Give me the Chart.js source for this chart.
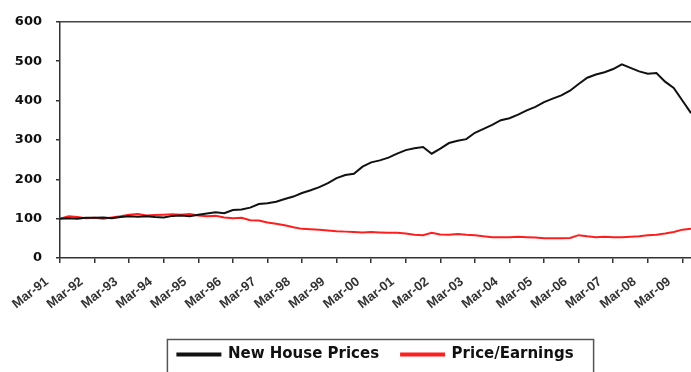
<!DOCTYPE html>
<html>
<head>
<meta charset="utf-8">
<script src="https://cdn.jsdelivr.net/npm/chart.js@4.4.1/dist/chart.umd.min.js"></script>
<style>
  html, body { margin: 0; padding: 0; background: #fff; }
  #wrap { width: 691px; height: 372px; }
</style>
</head>
<body>
<div id="wrap"><canvas id="house-chart" width="691" height="372"></canvas></div>
<script>
// quarterly, Mar-91 .. Jun-09
var years = ['91','92','93','94','95','96','97','98','99','00','01','02','03','04','05','06','07','08','09'];
var months = ['Mar', 'Jun', 'Sep', 'Dec'];
var quarters = [];
years.forEach(function (y, i) {
    months.forEach(function (m, j) {
        if (i == years.length - 1 && j > 1) return;
        quarters.push(m + '-' + y);
    });
});

var newHousePrices = [
    100, 101, 100, 102, 102, 103, 101, 104, 106, 105, 106, 104,
    103, 107, 108, 106, 110, 113, 116, 114, 122, 123, 128, 137,
    139, 143, 150, 156, 165, 172, 180, 190, 203, 211, 214, 232,
    243, 248, 255, 265, 274, 279, 282, 265, 278, 292, 298, 302,
    318, 328, 338, 350, 355, 364, 375, 384, 396, 405, 413, 425,
    442, 458, 466, 472, 480, 492, 483, 474, 468, 470, 448, 432,
    400, 368
];
var priceEarnings = [
    100, 106, 104, 101, 102, 100, 103, 106, 110, 112, 108, 109,
    110, 111, 110, 112, 108, 106, 107, 103, 101, 102, 96, 95,
    90, 87, 83, 78, 74, 73, 72, 70, 68, 67, 66, 65,
    66, 65, 64, 64, 62, 59, 58, 64, 60, 59, 61, 59,
    58, 55, 53, 53, 53, 54, 53, 52, 50, 50, 50, 51,
    58, 55, 53, 54, 53, 53, 54, 55, 58, 59, 62, 66,
    72, 74
];
var yTicks = [0, 100, 200, 300, 400, 500, 600];

// border round the legend + top edge of plot area
var framePlugin = {
    id: 'frame',
    afterDraw: function (chart) {
        var c = chart.ctx;
        var a = chart.chartArea;
        c.save();
        c.strokeStyle = '#444';
        c.lineWidth = 1.5;
        c.beginPath();
        c.moveTo(a.left, a.top);
        c.lineTo(a.right, a.top);
        c.stroke();

        var boxes = chart.legend.legendHitBoxes;
        if (boxes && boxes.length) {
            var first = boxes[0], last = boxes[boxes.length - 1];
            var left = first.left - 10;
            var right = last.left + last.width + 20;
            var top = first.top + first.height / 2 - 15;
            c.strokeStyle = '#555';
            c.lineWidth = 1.5;
            c.strokeRect(left, top, right - left, 60);
        }
        c.restore();
    }
};

var ctx = document.getElementById('house-chart').getContext('2d');
var myChart = new Chart(ctx, {
    type: 'line',
    data: {
        labels: quarters,
        datasets: [
            {
                label: 'New House Prices',
                data: newHousePrices,
                borderColor: '#111',
                backgroundColor: '#111',
                borderWidth: 2,
                pointRadius: 0,
                tension: 0
            },
            {
                label: 'Price/Earnings',
                data: priceEarnings,
                borderColor: '#ff1e1e',
                backgroundColor: '#ff1e1e',
                borderWidth: 2,
                pointRadius: 0,
                tension: 0
            }
        ]
    },
    options: {
        responsive: false,
        animation: false,
        layout: { padding: { top: 20, right: 0, bottom: 0, left: 0 } },
        plugins: {
            tooltip: { enabled: false },
            legend: {
                position: 'bottom',
                fullSize: false,
                labels: {
                    boxWidth: 43,
                    boxHeight: 2,
                    padding: 22,
                    color: '#111',
                    font: { family: 'DejaVu Sans', weight: 'bold', size: 15 }
                }
            }
        },
        scales: {
            x: {
                type: 'category',
                offset: false,
                border: { color: '#333', width: 1.5 },
                grid: { display: true, drawOnChartArea: false, tickLength: 5, color: '#333', lineWidth: 1.5 },
                ticks: {
                    autoSkip: false,
                    maxRotation: 38,
                    minRotation: 38,
                    labelOffset: -13,
                    padding: 11,
                    color: '#333',
                    font: { family: 'Liberation Sans', weight: 'bold', size: 13 },
                    callback: function (val, i) {
                        return i % 4 == 0 ? quarters[i] : null;
                    }
                },
                afterFit: function (scale) {
                    scale.height = 67;
                    scale.paddingLeft = 0;
                    scale.paddingRight = 0;
                }
            },
            y: {
                min: 0,
                max: 600,
                border: { color: '#333', width: 1.5 },
                grid: { display: true, drawOnChartArea: false, tickLength: 4, color: '#333', lineWidth: 1.5 },
                afterBuildTicks: function (scale) {
                    scale.ticks = yTicks.map(function (v) { return { value: v }; });
                },
                ticks: {
                    padding: 14,
                    color: '#111',
                    font: { family: 'DejaVu Sans', weight: 'bold', size: 13 }
                },
                afterFit: function (scale) { scale.width = 60; }
            }
        }
    },
    plugins: [framePlugin]
});
</script>
</body>
</html>
